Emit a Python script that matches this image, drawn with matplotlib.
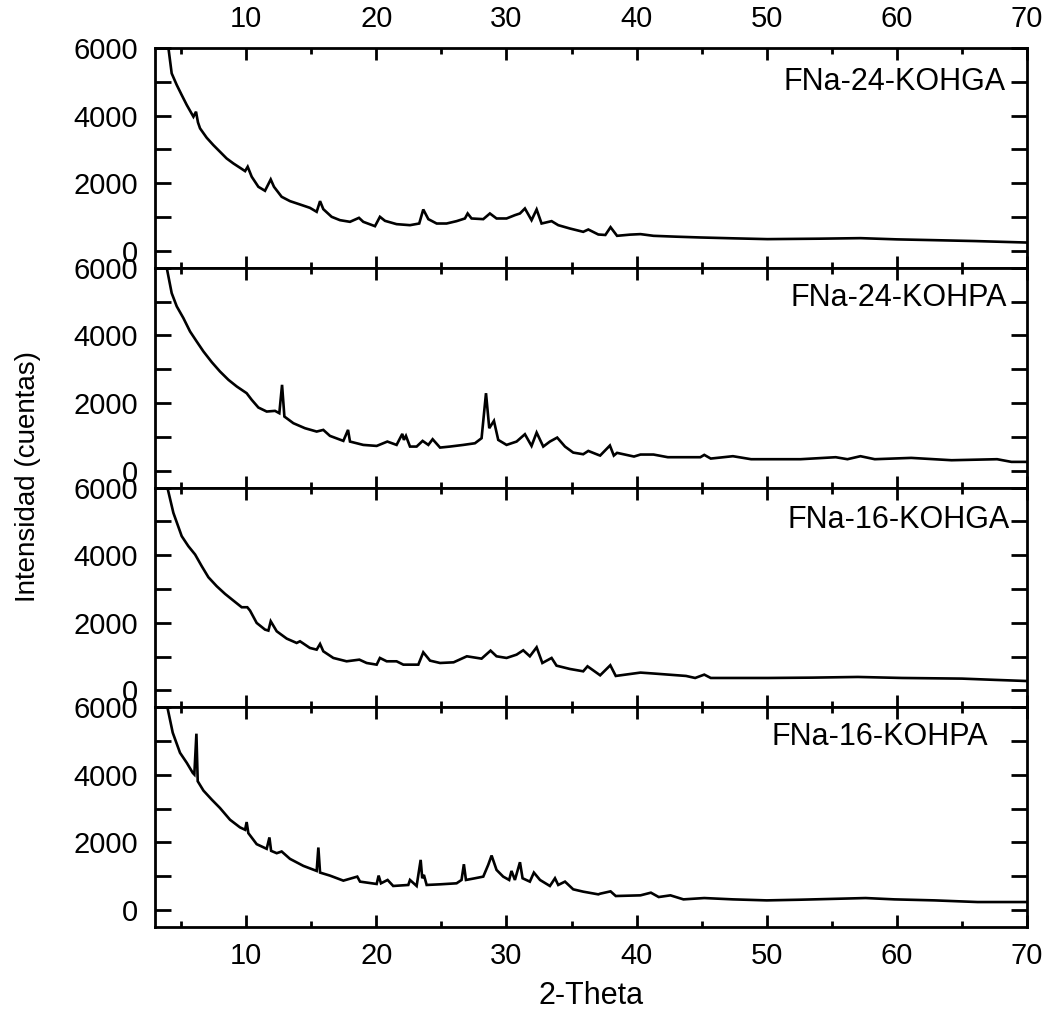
import matplotlib
matplotlib.use('Agg')
import matplotlib.pyplot as plt
from matplotlib.ticker import MultipleLocator
import numpy as np

# sample names (one per panel, top to bottom)
samples = ['FNa-24-KOHGA', 'FNa-24-KOHPA', 'FNa-16-KOHGA', 'FNa-16-KOHPA']

# 2-theta / counts
x_24ga = [3.85, 4.03, 4.28, 4.67, 5.05, 5.44, 5.95, 6.15, 6.3, 6.46, 6.97, 7.48,
          7.99, 8.5, 9.02, 9.53, 9.92, 10.12, 10.43, 10.94, 11.45, 11.89, 12.14,
          12.73, 13.37, 14.14, 14.9, 15.42, 15.68, 15.93, 16.57, 17.21, 17.98,
          18.67, 19.0, 19.9, 20.28, 20.67, 21.56, 22.59, 23.3, 23.61, 24.0, 24.64,
          25.4, 26.17, 26.81, 27.02, 27.32, 28.22, 28.73, 29.24, 30.01, 30.65,
          31.04, 31.42, 31.93, 32.32, 32.7, 33.47, 33.98, 34.88, 35.9, 36.29,
          37.06, 37.6, 38.0, 38.5, 39.5, 40.3, 41.3, 43.0, 44.9, 47.5, 50.05,
          54.0, 57.2, 60.0, 62.8, 66.0, 69.9]
y_24ga = [6600, 6000, 5250, 4906, 4610, 4314, 3968, 4116, 3800, 3623, 3346, 3129,
          2932, 2734, 2586, 2458, 2359, 2488, 2192, 1895, 1777, 2113, 1895,
          1599, 1471, 1372, 1273, 1155, 1471, 1234, 1007, 908, 859,
          977, 859, 730, 1007, 888, 790, 760, 809, 1224, 938, 809,
          809, 879, 958, 1106, 958, 938, 1106, 958, 958, 1056,
          1106, 1254, 908, 1224, 809, 879, 760, 661, 563, 632,
          484, 470, 700, 445, 480, 495, 445, 420, 396, 370, 347,
          360, 376, 340, 317, 290, 247]

x_24pa = [3.8, 3.9, 4.28, 4.67, 5.18, 5.69, 6.2, 6.72, 7.36, 7.99, 8.64, 9.28,
          10.04, 10.43, 10.94, 11.58, 12.22, 12.55, 12.76, 12.94, 13.63, 14.52,
          15.42, 15.93, 16.44, 17.47, 17.83, 17.98, 19.0, 20.03, 20.85, 21.56,
          22.0, 22.12, 22.28, 22.59, 23.1, 23.56, 24.0, 24.33, 24.9, 25.66, 26.69,
          27.58, 28.09, 28.43, 28.68, 29.04, 29.37, 30.01, 30.78, 31.42, 31.93,
          32.32, 32.83, 33.34, 33.9, 34.5, 35.13, 35.9, 36.29, 37.06, 37.2, 37.95,
          38.25, 38.5, 39.8, 40.3, 41.3, 42.4, 44.9, 45.2, 45.7, 47.4, 48.8, 52.6,
          55.3, 56.2, 57.2, 58.3, 61.1, 64.2, 67.7, 68.8, 69.9]
y_24pa = [6600, 6000, 5250, 4857, 4511, 4116, 3820, 3524, 3208, 2932, 2685, 2488,
          2290, 2093, 1866, 1747, 1767, 1698, 2537, 1599, 1402, 1254,
          1155, 1204, 1027, 879, 1204, 859, 760, 730, 859, 760,
          1086, 908, 1027, 711, 711, 879, 760, 928, 681, 711, 760,
          809, 958, 2290, 1254, 1471, 908, 760, 859, 1076, 730,
          1125, 711, 859, 977, 711, 533, 484, 582, 464, 445, 742,
          445, 525, 416, 475, 475, 396, 396, 465, 356, 426, 337, 337,
          396, 337, 426, 337, 376, 307, 337, 258, 258]

x_16ga = [3.8, 3.95, 4.41, 5.05, 5.56, 6.08, 6.59, 7.1, 7.74, 8.38, 9.02, 9.66,
          10.09, 10.3, 10.81, 11.45, 11.71, 11.89, 12.35, 13.12, 13.88, 14.14,
          14.9, 15.42, 15.68, 15.93, 16.7, 17.72, 18.7, 19.26, 20.03, 20.28, 20.8,
          21.56, 22.08, 23.23, 23.61, 24.13, 24.9, 25.94, 26.96, 28.09, 28.78,
          29.24, 30.01, 30.78, 31.29, 31.8, 32.32, 32.76, 33.47, 33.85, 34.88,
          35.9, 36.23, 37.06, 37.2, 37.98, 38.4, 40.3, 41.4, 43.8, 44.5, 45.2,
          45.7, 50.1, 53.5, 57.0, 60.4, 65.0, 67.5, 69.9]
y_16ga = [6600, 6000, 5250, 4561, 4265, 4018, 3672, 3346, 3080, 2853, 2655, 2458,
          2458, 2359, 1994, 1797, 1767, 2043, 1747, 1530, 1402, 1451,
          1254, 1204, 1372, 1155, 958, 859, 908, 809, 760, 958, 859,
          859, 760, 760, 1125, 879, 809, 829, 1007, 938, 1175,
          1007, 958, 1056, 1185, 1007, 1273, 809, 958, 730, 632,
          563, 711, 484, 445, 742, 426, 525, 495, 426, 366, 465,
          366, 366, 376, 396, 366, 347, 310, 277]

x_16pa = [3.8, 3.95, 4.36, 4.92, 5.44, 5.9, 6.02, 6.18, 6.28, 6.72, 7.36, 7.99,
          8.76, 9.53, 9.92, 10.04, 10.17, 10.81, 11.58, 11.79, 11.92, 12.35,
          12.73, 13.37, 14.4, 15.42, 15.55, 15.68, 16.44, 17.47, 18.54, 18.75,
          20.03, 20.18, 20.36, 20.87, 21.3, 22.46, 22.59, 23.1, 23.41, 23.53,
          23.66, 23.87, 24.9, 26.17, 26.55, 26.73, 26.89, 27.58, 28.22, 28.6,
          28.86, 29.24, 29.75, 30.21, 30.39, 30.65, 31.04, 31.24, 31.8, 32.11,
          32.58, 33.34, 33.73, 33.98, 34.5, 35.13, 35.9, 37.06, 37.2, 38.0, 38.4,
          40.3, 41.1, 41.7, 42.6, 43.6, 45.2, 47.4, 50.0, 52.6, 57.6, 59.8, 62.9,
          66.2, 69.9]
y_16pa = [6600, 6000, 5248, 4653, 4356, 4059, 4010, 5218, 3812, 3535, 3267, 3020,
          2673, 2446, 2376, 2604, 2277, 1950, 1812, 2149, 1752, 1683,
          1733, 1515, 1307, 1158, 1851, 1109, 1020, 871, 990, 842,
          772, 1020, 792, 891, 713, 743, 891, 713, 1485, 941,
          1040, 743, 762, 792, 891, 1356, 891, 941, 990, 1337,
          1614, 1188, 990, 891, 1158, 891, 1416, 941, 842, 1109,
          891, 713, 941, 743, 842, 614, 545, 465, 485, 554, 416,
          436, 515, 386, 436, 317, 356, 317, 287, 307, 356, 317, 287,
          238, 238]

xs = [x_24ga, x_24pa, x_16ga, x_16pa]
ys = [y_24ga, y_24pa, y_16ga, y_16pa]

# label placement (axes fraction)
lab_pos = [(0.975, 0.845), (0.977, 0.862), (0.980, 0.852), (0.955, 0.865)]

xlims = (3, 70)
ylims = (-500, 6000)
labelsize = 21

plt.rcParams['font.family'] = ['Liberation Sans', 'DejaVu Sans']

fig, axes = plt.subplots(4, 1, figsize=(10.51, 10.11), dpi=100)
fig.subplots_adjust(left=0.1475, right=0.9772, bottom=0.0831, top=0.9525,
                    hspace=0)

for i, ax in enumerate(axes):
    ax.plot(xs[i], ys[i], color='black', lw=1.9, solid_joinstyle='miter')
    ax.set_xlim(xlims)
    ax.set_ylim(ylims)
    ax.xaxis.set_major_locator(MultipleLocator(10))
    ax.xaxis.set_minor_locator(MultipleLocator(5))
    ax.yaxis.set_major_locator(MultipleLocator(2000))
    ax.yaxis.set_minor_locator(MultipleLocator(1000))
    ax.tick_params(axis='both', which='both', direction='in', top=True,
                   right=True, width=2, labelsize=labelsize)
    ax.tick_params(axis='x', which='major', length=8.6, pad=11)
    ax.tick_params(axis='x', which='minor', length=4.3)
    ax.tick_params(axis='y', which='both', length=11.5, pad=12)
    ax.tick_params(axis='x', labelbottom=(i == 3), labeltop=(i == 0))
    for sp in ax.spines.values():
        sp.set_linewidth(2)
    ax.text(lab_pos[i][0], lab_pos[i][1], samples[i], transform=ax.transAxes,
            ha='right', va='center', fontsize=22)

axes[3].set_xlabel('2-Theta', fontsize=22, labelpad=8)
fig.text(0.027, 0.529, 'Intensidad (cuentas)', rotation=90, ha='center',
         va='center', fontsize=20)

plt.savefig('out.png', dpi=100, facecolor='white')
